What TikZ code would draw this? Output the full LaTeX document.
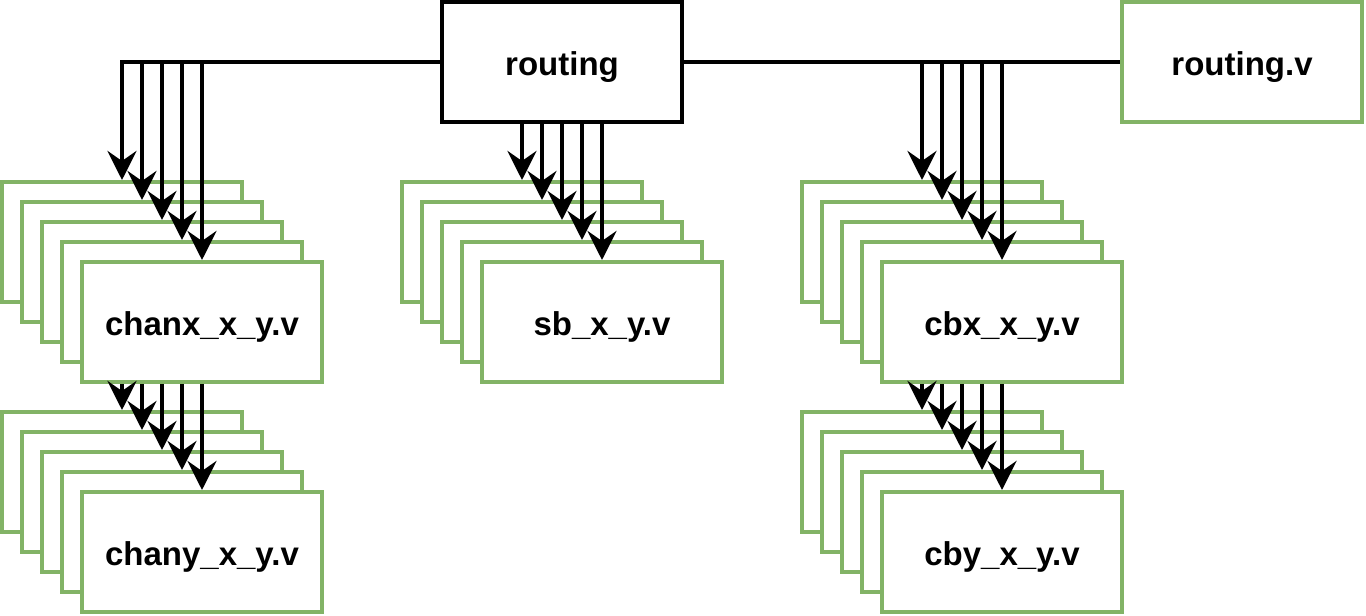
\documentclass[tikz,border=0pt]{standalone}
\usepackage{fontspec}
\setmainfont{Liberation Sans}
\usetikzlibrary{arrows.meta}
\definecolor{grn}{HTML}{82B366}
\begin{document}
\begin{tikzpicture}[x=1pt,y=-1pt,
  gbox/.style={draw=grn, line width=4pt, fill=white, minimum width=240pt, minimum height=120pt, inner sep=0pt, text height=26pt, text depth=0pt, font=\fontsize{33}{40}\selectfont\bfseries},
  bbox/.style={gbox, draw=black},
  link/.style={line width=4.5pt, draw=black},
  arr/.style={link, -{Stealth[length=29pt,width=29pt,inset=10pt]}}]
\useasboundingbox (0,0) rectangle (1366,616);
% top nodes
\node[bbox] (routing) at (562,62) {routing};
\node[gbox] (routingv) at (1242,62) {routing.v};
% stacks
\foreach \k in {1,...,4} {
  \node[gbox] (cx\k) at ({102+20*\k},{222+20*\k}) {};
}
\node[gbox] (cx5) at (202,322) {chanx\_x\_y.v};
\foreach \k in {1,...,4} {
  \node[gbox] (cy\k) at ({102+20*\k},{452+20*\k}) {};
}
\node[gbox] (cy5) at (202,552) {chany\_x\_y.v};
\foreach \k in {1,...,4} {
  \node[gbox] (sb\k) at ({502+20*\k},{222+20*\k}) {};
}
\node[gbox] (sb5) at (602,322) {sb\_x\_y.v};
\foreach \k in {1,...,4} {
  \node[gbox] (cb\k) at ({902+20*\k},{222+20*\k}) {};
}
\node[gbox] (cb5) at (1002,322) {cbx\_x\_y.v};
\foreach \k in {1,...,4} {
  \node[gbox] (cby\k) at ({902+20*\k},{452+20*\k}) {};
}
\node[gbox] (cby5) at (1002,552) {cby\_x\_y.v};
% connectors
\draw[link] (routing.east) -- (routingv.west);
\foreach \k in {1,...,5} {
  \draw[arr] (routing.west) -| (cx\k.north);
  \draw[arr] (routing.east) -| (cb\k.north);
  \draw[arr] (sb\k.north |- routing.south) -- (sb\k.north);
  \draw[arr] (cy\k.north |- cx5.south) -- (cy\k.north);
  \draw[arr] (cby\k.north |- cb5.south) -- (cby\k.north);
}
\end{tikzpicture}
\end{document}
